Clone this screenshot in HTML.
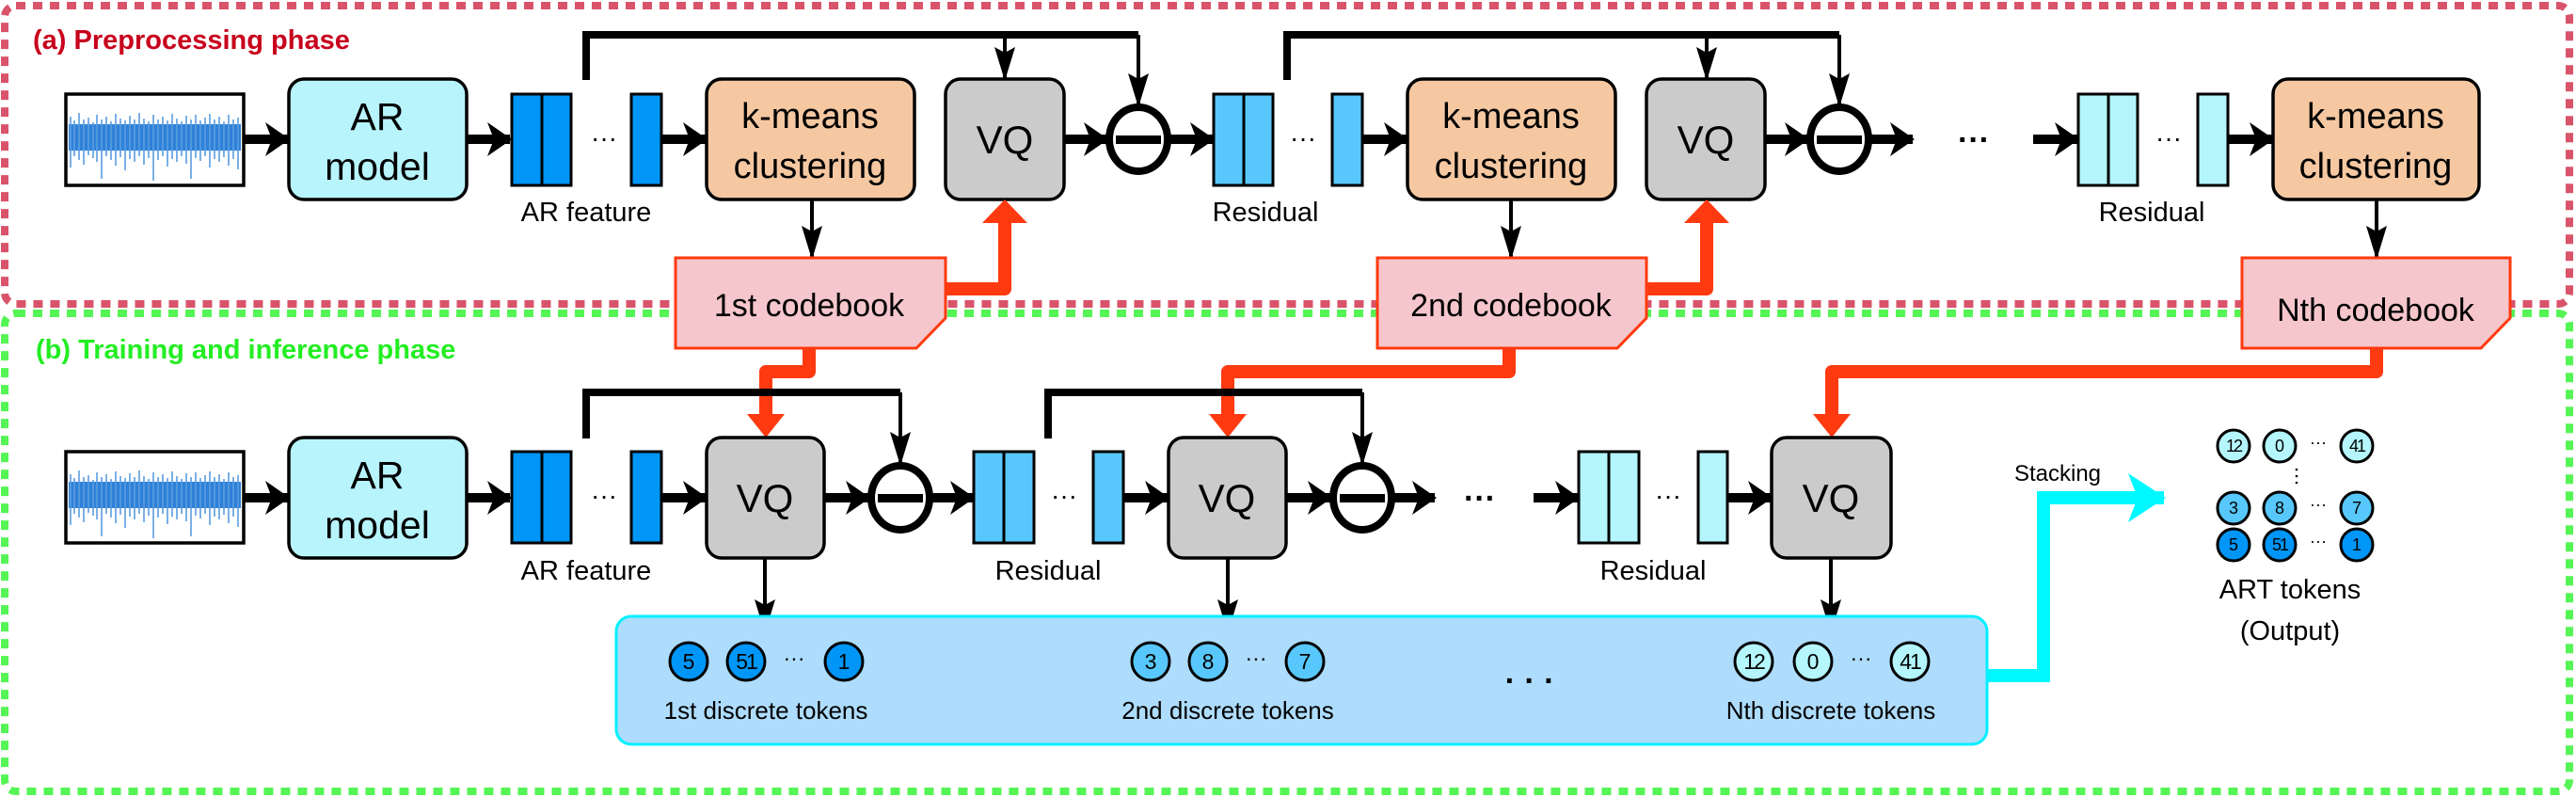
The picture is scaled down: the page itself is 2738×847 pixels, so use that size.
<!DOCTYPE html>
<html><head><meta charset="utf-8"><style>
html,body{margin:0;padding:0;background:#fff}
svg{display:block}
text{font-family:"Liberation Sans",sans-serif}
</style></head><body>
<svg width="2738" height="847" viewBox="0 0 2738 847" xmlns="http://www.w3.org/2000/svg">
<defs>
<marker id="mh" markerUnits="userSpaceOnUse" markerWidth="26" markerHeight="36" refX="24" refY="18" orient="auto"><path d="M0,0 L26,18 L0,36 L7,18 z" fill="#000"/></marker>
<marker id="mv" markerUnits="userSpaceOnUse" markerWidth="36" markerHeight="22" refX="34" refY="11" orient="auto"><path d="M0,0 L36,11 L0,22 L6,11 z" fill="#000"/></marker>
<marker id="mc" markerUnits="userSpaceOnUse" markerWidth="40" markerHeight="52" refX="38" refY="26" orient="auto"><path d="M0,0 L40,26 L0,52 L10,26 z" fill="#00f8ff"/></marker>
<g id="wv">
<rect x="3" y="132" width="183" height="28" fill="#2f80d8"/>
<path d="M5,124V178 M9,128V166 M14,120V170 M19,127V175 M24,125V165 M29,130V168 M33,122V172 M38,127V190 M43,124V166 M48,129V170 M53,121V176 M58,126V167 M63,128V181 M68,123V169 M73,127V172 M78,120V166 M83,126V175 M88,129V168 M93,122V192 M98,127V170 M103,124V166 M108,128V177 M113,121V169 M118,126V172 M123,129V166 M128,123V174 M133,127V190 M138,122V168 M143,128V171 M148,125V166 M153,121V178 M158,127V169 M163,124V172 M168,129V167 M173,122V176 M178,127V169 M183,125V180" stroke="#5a9de0" stroke-width="1.6"/>
</g>
</defs>

<rect x="5" y="333" width="2726" height="508" rx="12" fill="none" stroke="#55f555" stroke-width="8" stroke-dasharray="10,8"/>
<rect x="5" y="6" width="2726" height="317" rx="12" fill="none" stroke="#d9546a" stroke-width="8" stroke-dasharray="10,8"/>
<text x="35" y="52" font-size="29" font-weight="bold" fill="#c8001c">(a) Preprocessing phase</text>
<text x="38" y="381" font-size="29" font-weight="bold" fill="#22ee22">(b) Training and inference phase</text>

<!-- TOP ROW -->
<rect x="70" y="100" width="189" height="97" fill="#fff" stroke="#000" stroke-width="3.5"/>
<use href="#wv" x="70" y="0"/>
<rect x="307" y="84" width="189" height="128" rx="16" fill="#b8f4fc" stroke="#000" stroke-width="3.5"/>
<text x="401" y="138" font-size="41" text-anchor="middle">AR</text>
<text x="401" y="191" font-size="41" text-anchor="middle">model</text>
<g stroke="#000" stroke-width="3" fill="#0096f8">
<rect x="544" y="100" width="32" height="97"/><rect x="576" y="100" width="31" height="97"/><rect x="671" y="100" width="32" height="97"/>
</g>
<text x="642" y="156" font-size="28" text-anchor="middle">···</text>
<text x="623" y="235" font-size="29" text-anchor="middle">AR feature</text>
<rect x="751" y="84" width="221" height="128" rx="16" fill="#f5c8a2" stroke="#000" stroke-width="3.5"/>
<text x="861" y="136" font-size="38" text-anchor="middle">k-means</text>
<text x="861" y="189" font-size="38" text-anchor="middle">clustering</text>
<rect x="1005" y="84" width="126" height="128" rx="16" fill="#cbcbcb" stroke="#000" stroke-width="3.5"/>
<text x="1068" y="163" font-size="42" text-anchor="middle">VQ</text>
<ellipse cx="1210" cy="148" rx="31" ry="34" fill="#fff" stroke="#000" stroke-width="8"/>
<rect x="1186" y="144" width="48" height="9" fill="#000"/>

<g stroke="#000" stroke-width="3" fill="#58c8fc">
<rect x="1290" y="100" width="32" height="97"/><rect x="1322" y="100" width="31" height="97"/><rect x="1416" y="100" width="32" height="97"/>
</g>
<text x="1385" y="156" font-size="28" text-anchor="middle">···</text>
<text x="1345" y="235" font-size="29" text-anchor="middle">Residual</text>
<rect x="1496" y="84" width="221" height="128" rx="16" fill="#f5c8a2" stroke="#000" stroke-width="3.5"/>
<text x="1606" y="136" font-size="38" text-anchor="middle">k-means</text>
<text x="1606" y="189" font-size="38" text-anchor="middle">clustering</text>
<rect x="1750" y="84" width="126" height="128" rx="16" fill="#cbcbcb" stroke="#000" stroke-width="3.5"/>
<text x="1813" y="163" font-size="42" text-anchor="middle">VQ</text>
<ellipse cx="1955" cy="148" rx="31" ry="34" fill="#fff" stroke="#000" stroke-width="8"/>
<rect x="1931" y="144" width="48" height="9" fill="#000"/>
<text x="2098" y="160" font-size="34" font-weight="bold" text-anchor="middle">···</text>

<g stroke="#000" stroke-width="3" fill="#b4f6fc">
<rect x="2209" y="100" width="32" height="97"/><rect x="2241" y="100" width="31" height="97"/><rect x="2336" y="100" width="32" height="97"/>
</g>
<text x="2305" y="156" font-size="28" text-anchor="middle">···</text>
<text x="2287" y="235" font-size="29" text-anchor="middle">Residual</text>
<rect x="2416" y="84" width="219" height="128" rx="16" fill="#f5c8a2" stroke="#000" stroke-width="3.5"/>
<text x="2525" y="136" font-size="38" text-anchor="middle">k-means</text>
<text x="2525" y="189" font-size="38" text-anchor="middle">clustering</text>

<g stroke="#000" stroke-width="10" marker-end="url(#mh)">
<line x1="259" y1="148" x2="306" y2="148"/>
<line x1="496" y1="148" x2="542" y2="148"/>
<line x1="703" y1="148" x2="750" y2="148"/>
<line x1="1131" y1="148" x2="1176" y2="148"/>
<line x1="1242" y1="148" x2="1289" y2="148"/>
<line x1="1448" y1="148" x2="1495" y2="148"/>
<line x1="1876" y1="148" x2="1921" y2="148"/>
<line x1="1987" y1="148" x2="2033" y2="148"/>
<line x1="2161" y1="148" x2="2208" y2="148"/>
<line x1="2368" y1="148" x2="2415" y2="148"/>
</g>
<g fill="none" stroke="#000">
<path d="M623,85 V37 H1210" stroke-width="8"/>
<path d="M1368,85 V37 H1955" stroke-width="8"/>
</g>
<g stroke="#000" stroke-width="4" marker-end="url(#mv)">
<line x1="1068" y1="37" x2="1068" y2="84"/>
<line x1="1210" y1="37" x2="1210" y2="112"/>
<line x1="1814" y1="37" x2="1814" y2="84"/>
<line x1="1955" y1="37" x2="1955" y2="112"/>
<line x1="863" y1="212" x2="863" y2="274"/>
<line x1="1606" y1="212" x2="1606" y2="274"/>
<line x1="2526" y1="212" x2="2526" y2="274"/>
</g>

<g fill="none" stroke="#ff3a10" stroke-width="14" stroke-linejoin="round">
<path d="M1000,307 H1068 V236"/>
<path d="M1745,307 H1814 V236"/>
<path d="M860,365 V395 H814 V442"/>
<path d="M1604,365 V395 H1305 V442"/>
<path d="M2526,365 V395 H1947 V442"/>
</g>
<g fill="#ff3a10">
<path d="M1044,237 L1092,237 L1068,212 z"/>
<path d="M1790,237 L1838,237 L1814,212 z"/>
<path d="M794,440 L834,440 L814,465 z"/>
<path d="M1285,440 L1325,440 L1305,465 z"/>
<path d="M1927,440 L1967,440 L1947,465 z"/>
</g>
<g fill="#f5c6cc" stroke="#ff3a10" stroke-width="3">
<path d="M718,274 H1005 V338 L974,370 H718 z"/>
<path d="M1464,274 H1750 V338 L1719,370 H1464 z"/>
<path d="M2383,274 H2668 V338 L2637,370 H2383 z"/>
</g>
<text x="860" y="336" font-size="34" text-anchor="middle">1st codebook</text>
<text x="1606" y="336" font-size="34" text-anchor="middle">2nd codebook</text>
<text x="2525" y="341" font-size="34" text-anchor="middle">Nth codebook</text>

<!-- BOTTOM ROW -->
<rect x="70" y="480" width="189" height="97" fill="#fff" stroke="#000" stroke-width="3.5"/>
<use href="#wv" x="70" y="380"/>
<rect x="307" y="465" width="189" height="128" rx="16" fill="#b8f4fc" stroke="#000" stroke-width="3.5"/>
<text x="401" y="519" font-size="41" text-anchor="middle">AR</text>
<text x="401" y="572" font-size="41" text-anchor="middle">model</text>
<g stroke="#000" stroke-width="3" fill="#0096f8">
<rect x="544" y="480" width="32" height="97"/><rect x="576" y="480" width="31" height="97"/><rect x="671" y="480" width="32" height="97"/>
</g>
<text x="642" y="536" font-size="28" text-anchor="middle">···</text>
<text x="623" y="616" font-size="29" text-anchor="middle">AR feature</text>
<rect x="751" y="465" width="125" height="128" rx="16" fill="#cbcbcb" stroke="#000" stroke-width="3.5"/>
<text x="813" y="544" font-size="42" text-anchor="middle">VQ</text>
<ellipse cx="957" cy="529" rx="31" ry="34" fill="#fff" stroke="#000" stroke-width="8"/>
<rect x="933" y="525" width="48" height="9" fill="#000"/>
<g stroke="#000" stroke-width="3" fill="#58c8fc">
<rect x="1035" y="480" width="32" height="97"/><rect x="1067" y="480" width="32" height="97"/><rect x="1162" y="480" width="32" height="97"/>
</g>
<text x="1131" y="536" font-size="28" text-anchor="middle">···</text>
<text x="1114" y="616" font-size="29" text-anchor="middle">Residual</text>
<rect x="1242" y="465" width="125" height="128" rx="16" fill="#cbcbcb" stroke="#000" stroke-width="3.5"/>
<text x="1304" y="544" font-size="42" text-anchor="middle">VQ</text>
<ellipse cx="1448" cy="529" rx="31" ry="34" fill="#fff" stroke="#000" stroke-width="8"/>
<rect x="1424" y="525" width="48" height="9" fill="#000"/>
<text x="1573" y="541" font-size="34" font-weight="bold" text-anchor="middle">···</text>
<g stroke="#000" stroke-width="3" fill="#b4f6fc">
<rect x="1678" y="480" width="32" height="97"/><rect x="1710" y="480" width="32" height="97"/><rect x="1805" y="480" width="31" height="97"/>
</g>
<text x="1773" y="536" font-size="28" text-anchor="middle">···</text>
<text x="1757" y="616" font-size="29" text-anchor="middle">Residual</text>
<rect x="1883" y="465" width="127" height="128" rx="16" fill="#cbcbcb" stroke="#000" stroke-width="3.5"/>
<text x="1946" y="544" font-size="42" text-anchor="middle">VQ</text>

<g stroke="#000" stroke-width="10" marker-end="url(#mh)">
<line x1="259" y1="529" x2="306" y2="529"/>
<line x1="496" y1="529" x2="542" y2="529"/>
<line x1="703" y1="529" x2="750" y2="529"/>
<line x1="876" y1="529" x2="923" y2="529"/>
<line x1="989" y1="529" x2="1034" y2="529"/>
<line x1="1194" y1="529" x2="1241" y2="529"/>
<line x1="1367" y1="529" x2="1414" y2="529"/>
<line x1="1480" y1="529" x2="1525" y2="529"/>
<line x1="1630" y1="529" x2="1677" y2="529"/>
<line x1="1836" y1="529" x2="1882" y2="529"/>
</g>
<g fill="none" stroke="#000" stroke-width="8">
<path d="M623,466 V417 H957"/>
<path d="M1114,466 V417 H1448"/>
</g>
<g stroke="#000" stroke-width="4" marker-end="url(#mv)">
<line x1="957" y1="417" x2="957" y2="493"/>
<line x1="1448" y1="417" x2="1448" y2="493"/>
<line x1="813" y1="593" x2="813" y2="671"/>
<line x1="1305" y1="593" x2="1305" y2="671"/>
<line x1="1946" y1="593" x2="1946" y2="671"/>
</g>

<path d="M2112,718 H2172 V529 H2300" fill="none" stroke="#00f8ff" stroke-width="14" marker-end="url(#mc)"/>
<rect x="655" y="655" width="1457" height="136" rx="16" fill="#aedcfc" stroke="#00f0ff" stroke-width="3"/>
<g stroke="#000" stroke-width="3">
<g fill="#0096f8"><circle cx="732" cy="703" r="20"/><circle cx="793" cy="703" r="20"/><circle cx="897" cy="703" r="20"/></g>
<g fill="#58c8fc"><circle cx="1223" cy="703" r="20"/><circle cx="1284" cy="703" r="20"/><circle cx="1387" cy="703" r="20"/></g>
<g fill="#b4f6fc"><circle cx="1864" cy="703" r="20"/><circle cx="1927" cy="703" r="20"/><circle cx="2030" cy="703" r="20"/></g>
</g>
<g font-size="23" text-anchor="middle">
<text x="732" y="711">5</text><text x="793" y="711" letter-spacing="-2">51</text><text x="844" y="707">···</text><text x="897" y="711">1</text>
<text x="1223" y="711">3</text><text x="1284" y="711">8</text><text x="1335" y="707">···</text><text x="1387" y="711">7</text>
<text x="1864" y="711" letter-spacing="-2">12</text><text x="1927" y="711">0</text><text x="1978" y="707">···</text><text x="2030" y="711" letter-spacing="-2">41</text>
</g>
<g font-size="26" text-anchor="middle">
<text x="814" y="764">1st discrete tokens</text>
<text x="1305" y="764">2nd discrete tokens</text>
<text x="1946" y="764">Nth discrete tokens</text>
</g>
<text x="1626" y="735" font-size="34" font-weight="bold" text-anchor="middle">· · ·</text>

<text x="2187" y="511" font-size="24" text-anchor="middle">Stacking</text>
<g stroke="#000" stroke-width="3">
<g fill="#b4f6fc"><circle cx="2374" cy="474" r="17"/><circle cx="2423" cy="474" r="17"/><circle cx="2505" cy="474" r="17"/></g>
<g fill="#58c8fc"><circle cx="2374" cy="540" r="17"/><circle cx="2423" cy="540" r="17"/><circle cx="2505" cy="540" r="17"/></g>
<g fill="#0096f8"><circle cx="2374" cy="579" r="17"/><circle cx="2423" cy="579" r="17"/><circle cx="2505" cy="579" r="17"/></g>
</g>
<g font-size="18" text-anchor="middle">
<text x="2374" y="480" letter-spacing="-2">12</text><text x="2423" y="480">0</text><text x="2464" y="476">···</text><text x="2505" y="480" letter-spacing="-2">41</text>
<text x="2374" y="546">3</text><text x="2423" y="546">8</text><text x="2464" y="542">···</text><text x="2505" y="546">7</text>
<text x="2374" y="585">5</text><text x="2423" y="585" letter-spacing="-2">51</text><text x="2464" y="581">···</text><text x="2505" y="585">1</text>
</g>
<g fill="#000"><circle cx="2441" cy="499" r="1.3"/><circle cx="2441" cy="506" r="1.3"/><circle cx="2441" cy="513" r="1.3"/></g>
<text x="2434" y="636" font-size="29" text-anchor="middle">ART tokens</text>
<text x="2434" y="680" font-size="29" text-anchor="middle">(Output)</text>
</svg>
</body></html>
